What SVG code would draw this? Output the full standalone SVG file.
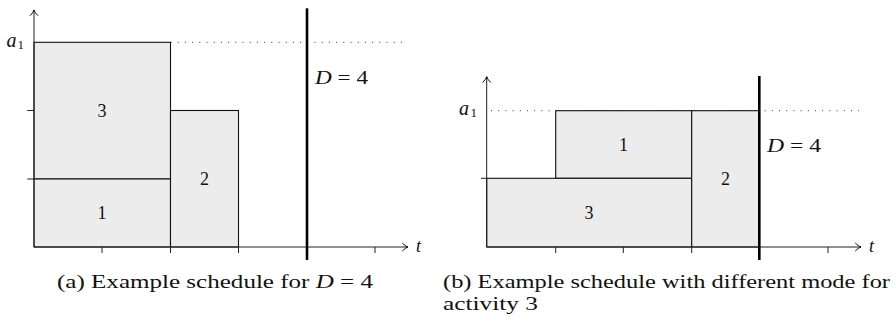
<svg xmlns="http://www.w3.org/2000/svg" width="896" height="320" viewBox="0 0 896 320">
<defs>
<marker id="arr" viewBox="-7 -5 9 10" refX="0" refY="0" markerWidth="9" markerHeight="10" markerUnits="userSpaceOnUse" orient="auto">
<path d="M-5.5,-3.8 C-3.8,-1.9 -1.6,-0.6 0,0 C-1.6,0.6 -3.8,1.9 -5.5,3.8" fill="none" stroke="#000" stroke-width="1" stroke-linecap="round"/>
</marker>
<style>
.blk{fill:#ebeceb;stroke:#111;stroke-width:1.1}
.ax{stroke:#222;stroke-width:1;fill:none}
.tk{stroke:#222;stroke-width:1}
.dl{stroke:#000;stroke-width:2.6}
.dot{stroke:#333;stroke-width:1;stroke-dasharray:1 6.2;fill:none}
.t{font-family:"Liberation Serif","DejaVu Serif",serif;fill:#111}
.n{font-size:18px;text-anchor:middle}
.it{font-style:italic}
.cap{font-size:19px}
</style>
</defs>

<!-- Panel (a) -->
<g id="panel-a">
<line class="dot" x1="170.5" y1="42.3" x2="407" y2="42.3"/>
<g id="a-blk3"><rect class="blk" x="34" y="42.3" width="136.5" height="136.7"/><text class="t n" x="102" y="116.5">3</text></g>
<g id="a-blk1"><rect class="blk" x="34" y="179" width="136.5" height="68"/><text class="t n" x="102" y="219">1</text></g>
<g id="a-blk2"><rect class="blk" x="170.5" y="110.5" width="68" height="136.5"/><text class="t n" x="204.5" y="185">2</text></g>
<g id="a-axes">
<line class="ax" x1="34" y1="247" x2="34" y2="10" marker-end="url(#arr)"/>
<line class="ax" x1="34" y1="247" x2="408" y2="247" marker-end="url(#arr)"/>
<line class="tk" x1="27.3" y1="110.5" x2="34" y2="110.5"/>
<line class="tk" x1="27.3" y1="179" x2="34" y2="179"/>
<line class="tk" x1="102" y1="247" x2="102" y2="253"/>
<line class="tk" x1="170.5" y1="247" x2="170.5" y2="253"/>
<line class="tk" x1="238.5" y1="247" x2="238.5" y2="253"/>
<line class="tk" x1="375" y1="247" x2="375" y2="253"/>
<text class="t it" x="6.5" y="46.5" font-size="20">a</text>
<text class="t" x="17.5" y="49" font-size="13">1</text>
<text class="t it" x="416" y="252" font-size="18">t</text>
</g>
<g id="a-deadline">
<line class="dl" x1="307" y1="8.3" x2="307" y2="260"/>
<text class="t" x="315" y="83.5" font-size="18" textLength="53" lengthAdjust="spacingAndGlyphs"><tspan font-style="italic">D</tspan> = 4</text>
</g>
<text class="t cap" x="57" y="287.5" textLength="316" lengthAdjust="spacingAndGlyphs">(a)  Example schedule for <tspan font-style="italic">D</tspan> = 4</text>
</g>

<!-- Panel (b) -->
<g id="panel-b">
<line class="dot" x1="491" y1="110.7" x2="859" y2="110.7"/>
<g id="b-blk1"><rect class="blk" x="555.7" y="110.7" width="136" height="67.6"/><text class="t n" x="623.5" y="151">1</text></g>
<g id="b-blk3"><rect class="blk" x="486.7" y="178.3" width="205" height="68.7"/><text class="t n" x="589" y="219">3</text></g>
<g id="b-blk2"><rect class="blk" x="691.7" y="110.7" width="67.6" height="136.3"/><text class="t n" x="725.5" y="185">2</text></g>
<g id="b-axes">
<line class="ax" x1="486.7" y1="247" x2="486.7" y2="76.7" marker-end="url(#arr)"/>
<line class="ax" x1="486.7" y1="247" x2="861" y2="247" marker-end="url(#arr)"/>
<line class="tk" x1="481" y1="178.3" x2="486.7" y2="178.3"/>
<line class="tk" x1="555.7" y1="247" x2="555.7" y2="253"/>
<line class="tk" x1="623.3" y1="247" x2="623.3" y2="253"/>
<line class="tk" x1="691.7" y1="247" x2="691.7" y2="253"/>
<line class="tk" x1="828" y1="247" x2="828" y2="253"/>
<text class="t it" x="459" y="114.5" font-size="20">a</text>
<text class="t" x="470.5" y="117" font-size="13">1</text>
<text class="t it" x="869" y="252" font-size="18">t</text>
</g>
<g id="b-deadline">
<line class="dl" x1="759.3" y1="76" x2="759.3" y2="260"/>
<text class="t" x="767" y="151.5" font-size="18" textLength="54" lengthAdjust="spacingAndGlyphs"><tspan font-style="italic">D</tspan> = 4</text>
</g>
<text class="t cap" x="443" y="287.5" textLength="447" lengthAdjust="spacingAndGlyphs">(b)  Example schedule with different mode for</text>
<text class="t cap" x="443" y="309.5" textLength="95" lengthAdjust="spacingAndGlyphs">activity 3</text>
</g>
</svg>
